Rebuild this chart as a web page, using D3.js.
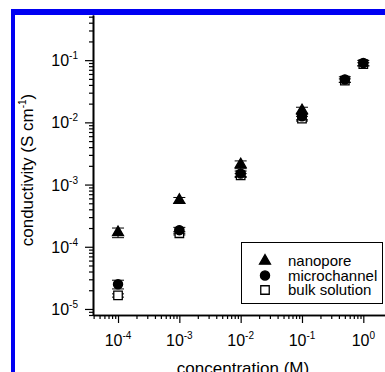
<!DOCTYPE html>
<html>
<head>
<meta charset="utf-8">
<script src="https://cdn.jsdelivr.net/npm/d3@7/dist/d3.min.js"></script>
<style>
  body { margin: 0; background: #fff; }
  svg { display: block; font-family: "Liberation Sans", Arial, sans-serif; }
</style>
</head>
<body>
<div id="chart"></div>
<script>
// data
const conc = [1e-4, 1e-3, 1e-2, 1e-1, 0.5, 1];
const nanopore = [1.7e-4, 5.6e-4, 2.1e-3, 1.55e-2];
const nanoporeErr = [0.3e-4, 0.6e-4, 0.3e-3, 0.2e-2];
const microchannel = [2.5e-5, 1.85e-4, 1.5e-3, 1.25e-2, 4.9e-2, 9.0e-2];
const microchannelErr = [0.4e-5, 0.2e-4, 0.15e-3, 0.15e-2, 0.5e-2, 0.9e-2];
const bulk = [1.65e-5, 1.65e-4, 1.4e-3, 1.15e-2, 4.7e-2, 8.6e-2];
const bulkErr = [0.1e-5, 0.1e-4, 0.1e-3, 0.1e-2, 0.3e-2, 0.5e-2];
const xMajor = [1e-4, 1e-3, 1e-2, 1e-1, 1];
const xExp = ["-4", "-3", "-2", "-1", "0"];
const yMajor = [1e-5, 1e-4, 1e-3, 1e-2, 1e-1];
const yExp = ["-5", "-4", "-3", "-2", "-1"];
const legendNames = ["nanopore", "microchannel", "bulk solution"];

const W = 385, H = 372;
const svg = d3.select("#chart").append("svg")
  .attr("width", W).attr("height", H);

// blue frame
svg.append("rect").attr("x", 11).attr("y", 9).attr("width", 4).attr("height", H)
  .attr("fill", "#0000f2");
svg.append("rect").attr("x", 11).attr("y", 9).attr("width", W).attr("height", 6)
  .attr("fill", "#0000f2");

const x = d3.scaleLog()
  .domain([Math.pow(10, -4.408), Math.pow(10, 0.37)])
  .range([93, 386]);
const y = d3.scaleLog()
  .domain([Math.pow(10, -5.097), Math.pow(10, -0.274)])
  .range([315, 15]);

// minor ticks 2..9 of each decade
function minors(scale) {
  const [a, b] = scale.domain();
  const out = [];
  for (let e = -6; e <= 1; e++) {
    for (let m = 2; m <= 9; m++) {
      const v = m * Math.pow(10, e);
      if (v >= a && v <= b) out.push(v);
    }
  }
  return out;
}

const xMinor = minors(x).filter(v => v < 1);
const yMinor = minors(y);

const gx = svg.append("g").attr("transform", "translate(0,315)");
gx.call(d3.axisBottom(x).tickValues(xMinor).tickSize(4).tickFormat("").tickSizeOuter(0));
gx.append("g").call(d3.axisBottom(x).tickValues(xMajor).tickSize(8).tickFormat("").tickSizeOuter(0));

const gy = svg.append("g").attr("transform", "translate(93,0)");
gy.call(d3.axisLeft(y).tickValues(yMinor).tickSize(4).tickFormat("").tickSizeOuter(0));
gy.append("g").call(d3.axisLeft(y).tickValues(yMajor).tickSize(8).tickFormat("").tickSizeOuter(0));

svg.selectAll(".domain").attr("stroke", "#000").attr("stroke-width", 1.6);
svg.selectAll(".tick line").attr("stroke", "#000").attr("stroke-width", 1.2);

// tick labels
const xl = svg.append("g").selectAll("text").data(xMajor).join("text")
  .attr("x", d => x(d)).attr("y", 346)
  .attr("text-anchor", "middle").attr("font-size", 16);
xl.append("tspan").text("10");
xl.append("tspan").attr("dy", -7).attr("font-size", 10).text((d, i) => xExp[i]);

const yl = svg.append("g").selectAll("text").data(yMajor).join("text")
  .attr("x", 78).attr("y", d => y(d) + 6)
  .attr("text-anchor", "end").attr("font-size", 16);
yl.append("tspan").text("10");
yl.append("tspan").attr("dy", -7).attr("font-size", 10).text((d, i) => yExp[i]);

// axis titles
svg.append("text").attr("x", 243).attr("y", 374)
  .attr("text-anchor", "middle").attr("font-size", 17)
  .text("concentration (M)");

const yt = svg.append("text")
  .attr("transform", "translate(33,170) rotate(-90)")
  .attr("text-anchor", "middle").attr("font-size", 17);
yt.append("tspan").text("conductivity (S cm");
yt.append("tspan").attr("dy", -7).attr("font-size", 10).text("-1");
yt.append("tspan").attr("dy", 7).text(")");

// markers
const tri = d3.symbol().type(d3.symbolTriangle).size(52);
const circ = d3.symbol().type(d3.symbolCircle).size(66);
const sq = d3.symbol().type(d3.symbolSquare).size(72);

function series(vals, errs, sym, fill) {
  const g = svg.append("g");
  const pts = vals.map((v, i) => ({ c: conc[i], v: v, e: errs[i] }));
  const eb = g.selectAll("g.err").data(pts).join("g").attr("class", "err")
    .attr("stroke", "#000").attr("stroke-width", 1);
  eb.append("line")
    .attr("x1", d => x(d.c)).attr("x2", d => x(d.c))
    .attr("y1", d => y(d.v - d.e)).attr("y2", d => y(d.v + d.e));
  eb.append("line")
    .attr("x1", d => x(d.c) - 6).attr("x2", d => x(d.c) + 6)
    .attr("y1", d => y(d.v - d.e)).attr("y2", d => y(d.v - d.e));
  eb.append("line")
    .attr("x1", d => x(d.c) - 6).attr("x2", d => x(d.c) + 6)
    .attr("y1", d => y(d.v + d.e)).attr("y2", d => y(d.v + d.e));
  g.selectAll("path").data(pts).join("path")
    .attr("d", sym)
    .attr("transform", d => `translate(${x(d.c)},${y(d.v)})`)
    .attr("fill", fill).attr("stroke", "#000").attr("stroke-width", 1.3);
}

series(bulk, bulkErr, sq, "#fff");
series(microchannel, microchannelErr, circ, "#000");
series(nanopore, nanoporeErr, tri, "#000");

// legend
const lg = svg.append("g");
lg.append("rect").attr("x", 241.5).attr("y", 242.5).attr("width", 141).attr("height", 61)
  .attr("fill", "#fff").attr("stroke", "#000").attr("stroke-width", 1);
const legendSyms = [tri, circ, sq];
const legendFill = ["#000", "#000", "#fff"];
legendNames.forEach((name, i) => {
  const ry = 261 + i * 14.5;
  lg.append("path").attr("d", legendSyms[i])
    .attr("transform", `translate(265,${ry})`)
    .attr("fill", legendFill[i]).attr("stroke", "#000").attr("stroke-width", 1.3);
  lg.append("text").attr("x", 288).attr("y", ry + 5)
    .attr("font-size", 15).text(name);
});
</script>
</body>
</html>
